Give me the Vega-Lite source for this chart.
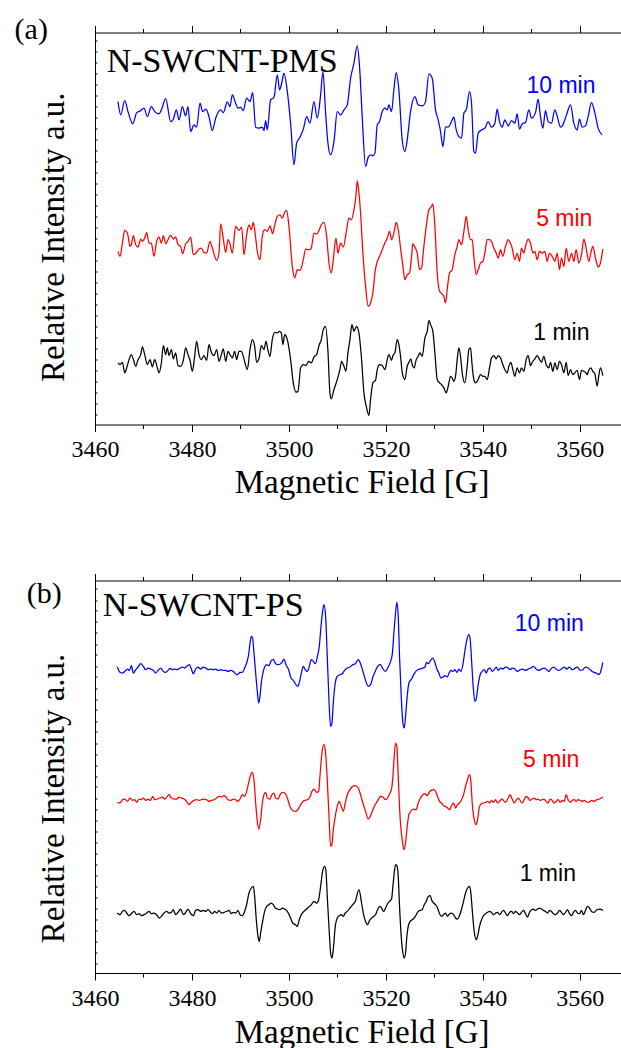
{
"$schema": "https://vega.github.io/schema/vega-lite/v6.json",
"padding": {"left": 14, "top": 14.5, "right": 0, "bottom": 0},
"config": {"font": "Liberation Serif", "view": {"stroke": null}, "axis": {"grid": false, "labelFont": "Liberation Serif", "titleFont": "Liberation Serif", "labelFontSize": 24, "domainColor": "#000000", "tickColor": "#000000", "labelColor": "#000000", "titleColor": "#000000", "domainWidth": 1, "tickWidth": 1}},
"spacing": 73,
"datasets": {
"a": [
{"t":"10 min","f":3464.75,"i":32.33},{"t":"10 min","f":3465.30,"i":31.00},{"t":"10 min","f":3466.13,"i":32.43},{"t":"10 min","f":3466.81,"i":31.33},{"t":"10 min","f":3467.78,"i":30.10},{"t":"10 min","f":3468.60,"i":31.23},{"t":"10 min","f":3469.43,"i":31.43},{"t":"10 min","f":3470.11,"i":31.67},{"t":"10 min","f":3470.80,"i":30.83},{"t":"10 min","f":3471.62,"i":31.83},{"t":"10 min","f":3472.31,"i":31.33},{"t":"10 min","f":3473.21,"i":31.10},{"t":"10 min","f":3473.69,"i":31.50},{"t":"10 min","f":3474.58,"i":32.63},{"t":"10 min","f":3475.61,"i":30.33},{"t":"10 min","f":3476.16,"i":30.57},{"t":"10 min","f":3476.78,"i":31.50},{"t":"10 min","f":3477.33,"i":30.50},{"t":"10 min","f":3478.02,"i":31.83},{"t":"10 min","f":3478.70,"i":30.90},{"t":"10 min","f":3479.18,"i":31.83},{"t":"10 min","f":3479.73,"i":29.33},{"t":"10 min","f":3480.42,"i":30.00},{"t":"10 min","f":3480.97,"i":29.77},{"t":"10 min","f":3481.66,"i":32.17},{"t":"10 min","f":3482.21,"i":31.33},{"t":"10 min","f":3482.90,"i":31.57},{"t":"10 min","f":3483.51,"i":30.83},{"t":"10 min","f":3484.20,"i":29.43},{"t":"10 min","f":3484.89,"i":30.67},{"t":"10 min","f":3485.92,"i":31.50},{"t":"10 min","f":3486.47,"i":31.23},{"t":"10 min","f":3487.29,"i":32.30},{"t":"10 min","f":3487.84,"i":31.83},{"t":"10 min","f":3488.33,"i":33.00},{"t":"10 min","f":3489.01,"i":32.17},{"t":"10 min","f":3489.49,"i":31.67},{"t":"10 min","f":3490.04,"i":31.77},{"t":"10 min","f":3490.59,"i":31.43},{"t":"10 min","f":3491.28,"i":32.67},{"t":"10 min","f":3491.97,"i":32.33},{"t":"10 min","f":3492.52,"i":33.23},{"t":"10 min","f":3493.14,"i":29.77},{"t":"10 min","f":3493.82,"i":29.67},{"t":"10 min","f":3494.51,"i":29.77},{"t":"10 min","f":3494.85,"i":29.43},{"t":"10 min","f":3495.20,"i":30.43},{"t":"10 min","f":3495.54,"i":29.50},{"t":"10 min","f":3496.23,"i":32.50},{"t":"10 min","f":3496.92,"i":32.77},{"t":"10 min","f":3497.60,"i":35.00},{"t":"10 min","f":3498.08,"i":33.50},{"t":"10 min","f":3498.50,"i":34.17},{"t":"10 min","f":3498.98,"i":35.17},{"t":"10 min","f":3499.67,"i":33.33},{"t":"10 min","f":3500.35,"i":30.17},{"t":"10 min","f":3501.04,"i":26.00},{"t":"10 min","f":3501.59,"i":28.17},{"t":"10 min","f":3502.28,"i":28.77},{"t":"10 min","f":3502.97,"i":29.57},{"t":"10 min","f":3503.65,"i":30.83},{"t":"10 min","f":3504.34,"i":30.17},{"t":"10 min","f":3505.17,"i":32.33},{"t":"10 min","f":3505.85,"i":30.67},{"t":"10 min","f":3506.54,"i":33.00},{"t":"10 min","f":3507.02,"i":35.33},{"t":"10 min","f":3507.57,"i":31.17},{"t":"10 min","f":3508.05,"i":28.17},{"t":"10 min","f":3508.60,"i":27.00},{"t":"10 min","f":3509.29,"i":28.33},{"t":"10 min","f":3509.97,"i":31.33},{"t":"10 min","f":3510.66,"i":31.00},{"t":"10 min","f":3511.35,"i":31.50},{"t":"10 min","f":3512.04,"i":32.00},{"t":"10 min","f":3512.72,"i":34.67},{"t":"10 min","f":3513.41,"i":36.17},{"t":"10 min","f":3514.10,"i":37.90},
{"t":"10 min","f":3514.57,"i":35.83},{"t":"10 min","f":3515.12,"i":30.83},{"t":"10 min","f":3515.81,"i":25.83},{"t":"10 min","f":3516.36,"i":26.77},{"t":"10 min","f":3516.84,"i":27.00},{"t":"10 min","f":3517.32,"i":26.90},{"t":"10 min","f":3517.74,"i":27.17},{"t":"10 min","f":3518.22,"i":30.00},{"t":"10 min","f":3518.70,"i":30.33},{"t":"10 min","f":3519.25,"i":31.33},{"t":"10 min","f":3519.80,"i":31.67},{"t":"10 min","f":3520.28,"i":31.50},{"t":"10 min","f":3520.62,"i":32.00},{"t":"10 min","f":3521.17,"i":31.33},{"t":"10 min","f":3521.65,"i":33.50},{"t":"10 min","f":3522.13,"i":35.23},{"t":"10 min","f":3522.68,"i":33.50},{"t":"10 min","f":3523.37,"i":28.50},{"t":"10 min","f":3523.92,"i":27.33},{"t":"10 min","f":3524.40,"i":28.50},{"t":"10 min","f":3525.09,"i":31.33},{"t":"10 min","f":3525.98,"i":32.83},{"t":"10 min","f":3526.67,"i":32.00},{"t":"10 min","f":3527.50,"i":31.90},{"t":"10 min","f":3528.18,"i":32.33},{"t":"10 min","f":3528.87,"i":35.10},{"t":"10 min","f":3529.56,"i":34.67},{"t":"10 min","f":3530.24,"i":31.50},{"t":"10 min","f":3530.79,"i":30.50},{"t":"10 min","f":3531.28,"i":29.33},{"t":"10 min","f":3531.76,"i":27.83},{"t":"10 min","f":3532.31,"i":29.77},{"t":"10 min","f":3532.99,"i":29.83},{"t":"10 min","f":3533.68,"i":30.50},{"t":"10 min","f":3534.02,"i":30.77},{"t":"10 min","f":3534.51,"i":29.50},{"t":"10 min","f":3535.06,"i":28.83},{"t":"10 min","f":3535.61,"i":28.67},{"t":"10 min","f":3536.09,"i":31.17},{"t":"10 min","f":3536.57,"i":31.50},{"t":"10 min","f":3537.26,"i":33.33},{"t":"10 min","f":3537.67,"i":32.17},{"t":"10 min","f":3538.15,"i":27.33},{"t":"10 min","f":3538.49,"i":27.17},{"t":"10 min","f":3539.04,"i":29.17},{"t":"10 min","f":3539.73,"i":29.50},{"t":"10 min","f":3540.42,"i":29.67},{"t":"10 min","f":3541.10,"i":30.33},{"t":"10 min","f":3541.79,"i":29.77},{"t":"10 min","f":3542.48,"i":30.17},{"t":"10 min","f":3542.96,"i":31.57},{"t":"10 min","f":3543.44,"i":30.33},{"t":"10 min","f":3543.99,"i":29.77},{"t":"10 min","f":3544.54,"i":30.50},{"t":"10 min","f":3545.23,"i":29.90},{"t":"10 min","f":3545.92,"i":30.43},{"t":"10 min","f":3546.60,"i":30.17},{"t":"10 min","f":3547.08,"i":31.10},{"t":"10 min","f":3547.56,"i":29.57},{"t":"10 min","f":3548.11,"i":30.10},{"t":"10 min","f":3548.80,"i":30.23},{"t":"10 min","f":3549.49,"i":31.50},{"t":"10 min","f":3550.04,"i":30.67},{"t":"10 min","f":3550.86,"i":31.23},{"t":"10 min","f":3551.41,"i":32.57},{"t":"10 min","f":3551.89,"i":30.83},{"t":"10 min","f":3552.38,"i":29.67},{"t":"10 min","f":3552.93,"i":31.43},{"t":"10 min","f":3553.48,"i":30.33},{"t":"10 min","f":3554.16,"i":30.17},{"t":"10 min","f":3554.85,"i":31.50},{"t":"10 min","f":3555.33,"i":30.90},{"t":"10 min","f":3556.02,"i":29.77},{"t":"10 min","f":3556.50,"i":30.00},{"t":"10 min","f":3557.19,"i":30.90},{"t":"10 min","f":3558.08,"i":32.00},{"t":"10 min","f":3558.77,"i":30.17},{"t":"10 min","f":3559.45,"i":29.50},{"t":"10 min","f":3559.94,"i":30.57},{"t":"10 min","f":3560.49,"i":29.77},{"t":"10 min","f":3561.17,"i":29.90},{"t":"10 min","f":3561.72,"i":30.83},{"t":"10 min","f":3562.41,"i":32.23},{"t":"10 min","f":3563.10,"i":31.23},{"t":"10 min","f":3563.78,"i":29.67},{"t":"10 min","f":3564.61,"i":29.00},
{"t":"5 min","f":3464.75,"i":17.33},{"t":"5 min","f":3465.16,"i":16.83},{"t":"5 min","f":3465.65,"i":18.17},{"t":"5 min","f":3466.13,"i":19.43},{"t":"5 min","f":3466.68,"i":19.17},{"t":"5 min","f":3467.23,"i":17.83},{"t":"5 min","f":3467.50,"i":18.00},{"t":"5 min","f":3467.91,"i":18.90},{"t":"5 min","f":3468.39,"i":18.00},{"t":"5 min","f":3468.88,"i":17.77},{"t":"5 min","f":3469.43,"i":18.57},{"t":"5 min","f":3469.77,"i":18.33},{"t":"5 min","f":3470.25,"i":18.67},{"t":"5 min","f":3470.66,"i":19.23},{"t":"5 min","f":3471.14,"i":18.17},{"t":"5 min","f":3471.62,"i":18.17},{"t":"5 min","f":3472.17,"i":16.83},{"t":"5 min","f":3472.72,"i":18.33},{"t":"5 min","f":3473.21,"i":18.77},{"t":"5 min","f":3473.69,"i":18.17},{"t":"5 min","f":3474.10,"i":18.90},{"t":"5 min","f":3474.58,"i":18.10},{"t":"5 min","f":3475.06,"i":18.50},{"t":"5 min","f":3475.61,"i":18.93},{"t":"5 min","f":3476.16,"i":18.57},{"t":"5 min","f":3476.64,"i":18.77},{"t":"5 min","f":3477.12,"i":18.00},{"t":"5 min","f":3477.67,"i":17.83},{"t":"5 min","f":3478.08,"i":17.10},{"t":"5 min","f":3478.70,"i":18.10},{"t":"5 min","f":3479.18,"i":18.33},{"t":"5 min","f":3479.73,"i":18.77},{"t":"5 min","f":3480.28,"i":17.00},{"t":"5 min","f":3480.83,"i":17.17},{"t":"5 min","f":3481.45,"i":17.57},{"t":"5 min","f":3481.93,"i":17.67},{"t":"5 min","f":3482.48,"i":17.23},{"t":"5 min","f":3483.03,"i":17.17},{"t":"5 min","f":3483.72,"i":18.33},{"t":"5 min","f":3484.20,"i":17.67},{"t":"5 min","f":3485.10,"i":16.43},{"t":"5 min","f":3485.58,"i":17.17},{"t":"5 min","f":3485.92,"i":20.10},{"t":"5 min","f":3486.47,"i":18.57},{"t":"5 min","f":3486.95,"i":17.23},{"t":"5 min","f":3487.43,"i":18.50},{"t":"5 min","f":3487.84,"i":18.10},{"t":"5 min","f":3488.33,"i":17.17},{"t":"5 min","f":3489.01,"i":19.83},{"t":"5 min","f":3489.70,"i":19.43},{"t":"5 min","f":3490.25,"i":19.77},{"t":"5 min","f":3490.73,"i":17.00},{"t":"5 min","f":3491.28,"i":19.00},{"t":"5 min","f":3491.76,"i":20.00},{"t":"5 min","f":3492.24,"i":19.50},{"t":"5 min","f":3492.66,"i":20.23},{"t":"5 min","f":3493.14,"i":18.67},{"t":"5 min","f":3493.48,"i":17.33},{"t":"5 min","f":3494.03,"i":16.50},{"t":"5 min","f":3494.51,"i":18.83},{"t":"5 min","f":3494.99,"i":19.50},{"t":"5 min","f":3495.54,"i":19.33},{"t":"5 min","f":3496.09,"i":19.90},{"t":"5 min","f":3496.64,"i":19.10},{"t":"5 min","f":3497.05,"i":19.90},{"t":"5 min","f":3497.60,"i":20.83},{"t":"5 min","f":3498.15,"i":21.00},{"t":"5 min","f":3498.64,"i":20.67},{"t":"5 min","f":3499.12,"i":21.23},{"t":"5 min","f":3499.53,"i":21.43},{"t":"5 min","f":3500.01,"i":19.83},{"t":"5 min","f":3500.70,"i":15.83},{"t":"5 min","f":3501.18,"i":14.67},{"t":"5 min","f":3501.73,"i":15.50},{"t":"5 min","f":3502.28,"i":15.43},{"t":"5 min","f":3502.97,"i":16.50},{"t":"5 min","f":3503.45,"i":17.57},{"t":"5 min","f":3504.13,"i":17.50},{"t":"5 min","f":3504.61,"i":17.67},{"t":"5 min","f":3505.17,"i":19.17},{"t":"5 min","f":3505.71,"i":19.07},{"t":"5 min","f":3506.20,"i":19.43},{"t":"5 min","f":3506.68,"i":20.00},{"t":"5 min","f":3507.23,"i":20.23},{"t":"5 min","f":3507.78,"i":18.83},{"t":"5 min","f":3508.26,"i":16.17},{"t":"5 min","f":3508.74,"i":15.17},{"t":"5 min","f":3509.15,"i":16.50},{"t":"5 min","f":3509.70,"i":18.67},{"t":"5 min","f":3510.11,"i":17.17},{"t":"5 min","f":3510.66,"i":18.17},{"t":"5 min","f":3511.21,"i":17.77},{"t":"5 min","f":3511.90,"i":19.50},{"t":"5 min","f":3512.38,"i":20.67},{"t":"5 min","f":3512.86,"i":20.50},{"t":"5 min","f":3513.41,"i":21.50},{"t":"5 min","f":3513.82,"i":22.90},{"t":"5 min","f":3514.10,"i":24.40},
{"t":"5 min","f":3514.30,"i":23.83},{"t":"5 min","f":3514.78,"i":21.17},{"t":"5 min","f":3515.26,"i":17.17},{"t":"5 min","f":3515.81,"i":13.83},{"t":"5 min","f":3516.36,"i":11.83},{"t":"5 min","f":3516.84,"i":12.17},{"t":"5 min","f":3517.32,"i":13.17},{"t":"5 min","f":3517.74,"i":15.17},{"t":"5 min","f":3518.22,"i":16.33},{"t":"5 min","f":3518.70,"i":16.83},{"t":"5 min","f":3519.11,"i":17.33},{"t":"5 min","f":3519.80,"i":18.17},{"t":"5 min","f":3520.28,"i":18.67},{"t":"5 min","f":3520.76,"i":19.33},{"t":"5 min","f":3521.17,"i":18.50},{"t":"5 min","f":3521.65,"i":19.17},{"t":"5 min","f":3522.13,"i":20.23},{"t":"5 min","f":3522.55,"i":19.50},{"t":"5 min","f":3523.03,"i":17.67},{"t":"5 min","f":3523.51,"i":15.83},{"t":"5 min","f":3523.92,"i":14.50},{"t":"5 min","f":3524.40,"i":15.00},{"t":"5 min","f":3524.88,"i":15.17},{"t":"5 min","f":3525.30,"i":16.83},{"t":"5 min","f":3525.57,"i":18.10},{"t":"5 min","f":3525.98,"i":17.77},{"t":"5 min","f":3526.46,"i":17.17},{"t":"5 min","f":3526.95,"i":15.50},{"t":"5 min","f":3527.36,"i":15.67},{"t":"5 min","f":3527.84,"i":17.83},{"t":"5 min","f":3528.32,"i":19.83},{"t":"5 min","f":3528.87,"i":21.50},{"t":"5 min","f":3529.42,"i":21.83},{"t":"5 min","f":3529.69,"i":22.10},{"t":"5 min","f":3530.11,"i":19.83},{"t":"5 min","f":3530.59,"i":15.17},{"t":"5 min","f":3531.07,"i":13.33},{"t":"5 min","f":3531.48,"i":13.10},{"t":"5 min","f":3531.96,"i":12.83},{"t":"5 min","f":3532.31,"i":12.17},{"t":"5 min","f":3532.72,"i":13.83},{"t":"5 min","f":3533.13,"i":15.17},{"t":"5 min","f":3533.68,"i":15.50},{"t":"5 min","f":3534.23,"i":17.00},{"t":"5 min","f":3534.71,"i":17.83},{"t":"5 min","f":3535.06,"i":18.50},{"t":"5 min","f":3535.61,"i":18.00},{"t":"5 min","f":3536.09,"i":19.33},{"t":"5 min","f":3536.57,"i":20.83},{"t":"5 min","f":3536.98,"i":19.50},{"t":"5 min","f":3537.46,"i":18.50},{"t":"5 min","f":3537.81,"i":18.50},{"t":"5 min","f":3538.15,"i":16.83},{"t":"5 min","f":3538.63,"i":15.00},{"t":"5 min","f":3539.04,"i":15.50},{"t":"5 min","f":3539.52,"i":16.17},{"t":"5 min","f":3540.00,"i":16.33},{"t":"5 min","f":3540.42,"i":17.17},{"t":"5 min","f":3540.90,"i":18.50},{"t":"5 min","f":3541.38,"i":18.50},{"t":"5 min","f":3541.79,"i":18.33},{"t":"5 min","f":3542.27,"i":17.67},{"t":"5 min","f":3542.75,"i":17.17},{"t":"5 min","f":3543.17,"i":16.67},{"t":"5 min","f":3543.65,"i":17.50},{"t":"5 min","f":3544.13,"i":16.83},{"t":"5 min","f":3544.68,"i":17.83},{"t":"5 min","f":3545.23,"i":18.50},{"t":"5 min","f":3545.71,"i":18.10},{"t":"5 min","f":3546.05,"i":17.67},{"t":"5 min","f":3546.60,"i":16.50},{"t":"5 min","f":3547.08,"i":17.17},{"t":"5 min","f":3547.56,"i":16.33},{"t":"5 min","f":3547.97,"i":17.67},{"t":"5 min","f":3548.46,"i":17.17},{"t":"5 min","f":3548.94,"i":18.10},{"t":"5 min","f":3549.35,"i":18.57},{"t":"5 min","f":3549.83,"i":18.17},{"t":"5 min","f":3550.31,"i":17.17},{"t":"5 min","f":3550.73,"i":17.33},{"t":"5 min","f":3551.21,"i":16.50},{"t":"5 min","f":3551.69,"i":17.33},{"t":"5 min","f":3552.24,"i":17.17},{"t":"5 min","f":3552.79,"i":17.33},{"t":"5 min","f":3553.27,"i":16.33},{"t":"5 min","f":3553.75,"i":17.17},{"t":"5 min","f":3554.30,"i":16.83},{"t":"5 min","f":3554.85,"i":16.33},{"t":"5 min","f":3555.33,"i":17.17},{"t":"5 min","f":3555.81,"i":15.50},{"t":"5 min","f":3556.22,"i":16.67},{"t":"5 min","f":3556.71,"i":15.83},{"t":"5 min","f":3557.19,"i":17.67},{"t":"5 min","f":3557.74,"i":16.33},{"t":"5 min","f":3558.29,"i":17.17},{"t":"5 min","f":3558.77,"i":16.33},{"t":"5 min","f":3559.25,"i":17.50},{"t":"5 min","f":3559.80,"i":16.17},{"t":"5 min","f":3560.35,"i":17.00},{"t":"5 min","f":3560.83,"i":18.57},{"t":"5 min","f":3561.31,"i":17.67},{"t":"5 min","f":3561.86,"i":16.33},{"t":"5 min","f":3562.27,"i":17.17},{"t":"5 min","f":3562.68,"i":17.83},{"t":"5 min","f":3563.23,"i":16.67},{"t":"5 min","f":3563.78,"i":15.77},{"t":"5 min","f":3564.26,"i":16.17},{"t":"5 min","f":3564.75,"i":17.57},
{"t":"1 min","f":3464.75,"i":6.17},{"t":"1 min","f":3465.16,"i":6.00},{"t":"1 min","f":3465.65,"i":6.23},{"t":"1 min","f":3466.13,"i":5.17},{"t":"1 min","f":3466.54,"i":5.67},{"t":"1 min","f":3467.02,"i":6.50},{"t":"1 min","f":3467.50,"i":7.00},{"t":"1 min","f":3467.91,"i":6.50},{"t":"1 min","f":3468.39,"i":5.83},{"t":"1 min","f":3468.88,"i":6.50},{"t":"1 min","f":3469.43,"i":7.00},{"t":"1 min","f":3469.77,"i":7.77},{"t":"1 min","f":3470.25,"i":7.00},{"t":"1 min","f":3470.80,"i":6.00},{"t":"1 min","f":3471.35,"i":6.50},{"t":"1 min","f":3471.83,"i":5.77},{"t":"1 min","f":3472.31,"i":6.50},{"t":"1 min","f":3472.86,"i":5.67},{"t":"1 min","f":3473.21,"i":5.17},{"t":"1 min","f":3473.69,"i":6.17},{"t":"1 min","f":3474.10,"i":7.90},{"t":"1 min","f":3474.58,"i":7.00},{"t":"1 min","f":3474.92,"i":7.67},{"t":"1 min","f":3475.27,"i":6.90},{"t":"1 min","f":3475.75,"i":7.50},{"t":"1 min","f":3476.16,"i":6.57},{"t":"1 min","f":3476.64,"i":7.17},{"t":"1 min","f":3477.12,"i":5.90},{"t":"1 min","f":3477.67,"i":5.83},{"t":"1 min","f":3478.22,"i":6.43},{"t":"1 min","f":3478.70,"i":7.67},{"t":"1 min","f":3479.18,"i":7.00},{"t":"1 min","f":3479.60,"i":6.43},{"t":"1 min","f":3480.08,"i":5.33},{"t":"1 min","f":3480.56,"i":6.83},{"t":"1 min","f":3480.97,"i":8.33},{"t":"1 min","f":3481.45,"i":7.00},{"t":"1 min","f":3481.93,"i":6.50},{"t":"1 min","f":3482.48,"i":6.90},{"t":"1 min","f":3483.03,"i":6.43},{"t":"1 min","f":3483.51,"i":8.00},{"t":"1 min","f":3483.99,"i":7.23},{"t":"1 min","f":3484.55,"i":6.90},{"t":"1 min","f":3485.10,"i":7.50},{"t":"1 min","f":3485.58,"i":6.33},{"t":"1 min","f":3486.06,"i":7.00},{"t":"1 min","f":3486.47,"i":7.57},{"t":"1 min","f":3486.95,"i":6.33},{"t":"1 min","f":3487.43,"i":7.33},{"t":"1 min","f":3487.84,"i":7.00},{"t":"1 min","f":3488.33,"i":6.67},{"t":"1 min","f":3488.81,"i":7.33},{"t":"1 min","f":3489.22,"i":6.50},{"t":"1 min","f":3489.70,"i":7.33},{"t":"1 min","f":3490.18,"i":7.33},{"t":"1 min","f":3490.73,"i":6.57},{"t":"1 min","f":3491.42,"i":5.50},{"t":"1 min","f":3491.97,"i":7.50},{"t":"1 min","f":3492.45,"i":8.50},{"t":"1 min","f":3492.93,"i":7.83},{"t":"1 min","f":3493.34,"i":6.23},{"t":"1 min","f":3493.82,"i":6.57},{"t":"1 min","f":3494.31,"i":7.90},{"t":"1 min","f":3494.85,"i":7.50},{"t":"1 min","f":3495.27,"i":8.33},{"t":"1 min","f":3495.68,"i":7.43},{"t":"1 min","f":3496.09,"i":6.83},{"t":"1 min","f":3496.57,"i":8.50},{"t":"1 min","f":3497.05,"i":9.23},{"t":"1 min","f":3497.60,"i":9.17},{"t":"1 min","f":3498.02,"i":9.33},{"t":"1 min","f":3498.43,"i":9.17},{"t":"1 min","f":3498.77,"i":8.00},{"t":"1 min","f":3499.12,"i":9.00},{"t":"1 min","f":3499.67,"i":8.50},{"t":"1 min","f":3500.35,"i":6.50},{"t":"1 min","f":3500.90,"i":4.17},{"t":"1 min","f":3501.45,"i":3.23},{"t":"1 min","f":3501.87,"i":3.33},{"t":"1 min","f":3502.42,"i":5.67},{"t":"1 min","f":3502.97,"i":6.00},{"t":"1 min","f":3503.45,"i":5.90},{"t":"1 min","f":3504.13,"i":6.33},{"t":"1 min","f":3504.61,"i":6.17},{"t":"1 min","f":3505.17,"i":6.77},{"t":"1 min","f":3505.71,"i":7.00},{"t":"1 min","f":3506.20,"i":7.90},{"t":"1 min","f":3506.68,"i":8.50},{"t":"1 min","f":3507.09,"i":9.50},{"t":"1 min","f":3507.57,"i":9.83},{"t":"1 min","f":3508.05,"i":7.33},{"t":"1 min","f":3508.46,"i":3.17},{"t":"1 min","f":3508.74,"i":2.57},{"t":"1 min","f":3509.29,"i":3.50},{"t":"1 min","f":3509.97,"i":4.50},{"t":"1 min","f":3510.52,"i":5.50},{"t":"1 min","f":3510.87,"i":6.33},{"t":"1 min","f":3511.35,"i":5.83},{"t":"1 min","f":3511.76,"i":5.33},{"t":"1 min","f":3512.17,"i":7.17},{"t":"1 min","f":3512.59,"i":8.50},{"t":"1 min","f":3513.00,"i":10.00},{"t":"1 min","f":3513.41,"i":9.33},{"t":"1 min","f":3513.96,"i":9.83},
{"t":"1 min","f":3514.44,"i":9.17},{"t":"1 min","f":3514.99,"i":6.50},{"t":"1 min","f":3515.47,"i":3.17},{"t":"1 min","f":3515.95,"i":1.83},{"t":"1 min","f":3516.50,"i":0.90},{"t":"1 min","f":3516.84,"i":2.50},{"t":"1 min","f":3517.32,"i":4.17},{"t":"1 min","f":3517.87,"i":4.43},{"t":"1 min","f":3518.22,"i":5.50},{"t":"1 min","f":3518.70,"i":6.00},{"t":"1 min","f":3519.25,"i":5.90},{"t":"1 min","f":3519.80,"i":5.50},{"t":"1 min","f":3520.28,"i":6.50},{"t":"1 min","f":3520.62,"i":7.00},{"t":"1 min","f":3521.17,"i":6.43},{"t":"1 min","f":3521.45,"i":6.90},{"t":"1 min","f":3521.86,"i":7.17},{"t":"1 min","f":3522.34,"i":8.50},{"t":"1 min","f":3522.68,"i":8.00},{"t":"1 min","f":3523.03,"i":6.83},{"t":"1 min","f":3523.37,"i":5.23},{"t":"1 min","f":3523.92,"i":4.50},{"t":"1 min","f":3524.40,"i":5.83},{"t":"1 min","f":3524.75,"i":6.23},{"t":"1 min","f":3525.16,"i":6.57},{"t":"1 min","f":3525.43,"i":6.00},{"t":"1 min","f":3525.85,"i":5.67},{"t":"1 min","f":3526.26,"i":6.50},{"t":"1 min","f":3526.67,"i":6.83},{"t":"1 min","f":3527.01,"i":7.17},{"t":"1 min","f":3527.50,"i":6.83},{"t":"1 min","f":3528.05,"i":8.67},{"t":"1 min","f":3528.53,"i":9.33},{"t":"1 min","f":3528.87,"i":10.43},{"t":"1 min","f":3529.21,"i":10.00},{"t":"1 min","f":3529.69,"i":9.33},{"t":"1 min","f":3530.11,"i":7.17},{"t":"1 min","f":3530.59,"i":4.50},{"t":"1 min","f":3531.07,"i":4.17},{"t":"1 min","f":3531.48,"i":4.00},{"t":"1 min","f":3531.96,"i":3.67},{"t":"1 min","f":3532.44,"i":3.17},{"t":"1 min","f":3532.86,"i":3.83},{"t":"1 min","f":3533.34,"i":4.83},{"t":"1 min","f":3533.68,"i":4.67},{"t":"1 min","f":3534.02,"i":4.33},{"t":"1 min","f":3534.37,"i":4.83},{"t":"1 min","f":3534.71,"i":6.50},{"t":"1 min","f":3535.06,"i":7.67},{"t":"1 min","f":3535.40,"i":6.83},{"t":"1 min","f":3535.74,"i":5.17},{"t":"1 min","f":3536.29,"i":4.17},{"t":"1 min","f":3536.77,"i":5.83},{"t":"1 min","f":3537.12,"i":7.50},{"t":"1 min","f":3537.46,"i":7.67},{"t":"1 min","f":3537.81,"i":5.83},{"t":"1 min","f":3538.15,"i":4.50},{"t":"1 min","f":3538.49,"i":4.17},{"t":"1 min","f":3539.04,"i":4.50},{"t":"1 min","f":3539.52,"i":5.00},{"t":"1 min","f":3540.00,"i":4.83},{"t":"1 min","f":3540.42,"i":4.83},{"t":"1 min","f":3540.90,"i":4.50},{"t":"1 min","f":3541.38,"i":5.67},{"t":"1 min","f":3541.79,"i":6.67},{"t":"1 min","f":3542.27,"i":6.90},{"t":"1 min","f":3542.75,"i":6.57},{"t":"1 min","f":3543.17,"i":6.90},{"t":"1 min","f":3543.65,"i":6.67},{"t":"1 min","f":3544.13,"i":6.00},{"t":"1 min","f":3544.54,"i":5.50},{"t":"1 min","f":3545.02,"i":5.17},{"t":"1 min","f":3545.37,"i":5.83},{"t":"1 min","f":3545.78,"i":6.23},{"t":"1 min","f":3546.19,"i":5.50},{"t":"1 min","f":3546.60,"i":4.83},{"t":"1 min","f":3547.08,"i":5.67},{"t":"1 min","f":3547.56,"i":5.17},{"t":"1 min","f":3547.97,"i":5.67},{"t":"1 min","f":3548.46,"i":5.33},{"t":"1 min","f":3548.94,"i":6.50},{"t":"1 min","f":3549.35,"i":6.90},{"t":"1 min","f":3549.83,"i":5.90},{"t":"1 min","f":3550.18,"i":6.23},{"t":"1 min","f":3550.73,"i":6.57},{"t":"1 min","f":3551.21,"i":6.90},{"t":"1 min","f":3551.69,"i":6.50},{"t":"1 min","f":3552.10,"i":6.23},{"t":"1 min","f":3552.58,"i":6.83},{"t":"1 min","f":3553.06,"i":6.00},{"t":"1 min","f":3553.61,"i":5.67},{"t":"1 min","f":3553.96,"i":6.23},{"t":"1 min","f":3554.44,"i":5.33},{"t":"1 min","f":3554.85,"i":6.17},{"t":"1 min","f":3555.33,"i":5.50},{"t":"1 min","f":3555.81,"i":6.33},{"t":"1 min","f":3556.22,"i":6.00},{"t":"1 min","f":3556.71,"i":5.17},{"t":"1 min","f":3557.19,"i":6.23},{"t":"1 min","f":3557.60,"i":4.90},{"t":"1 min","f":3558.08,"i":5.50},{"t":"1 min","f":3558.56,"i":5.00},{"t":"1 min","f":3558.97,"i":5.17},{"t":"1 min","f":3559.45,"i":5.43},{"t":"1 min","f":3559.94,"i":4.50},{"t":"1 min","f":3560.35,"i":5.43},{"t":"1 min","f":3560.83,"i":5.33},{"t":"1 min","f":3561.17,"i":5.23},{"t":"1 min","f":3561.52,"i":5.00},{"t":"1 min","f":3561.86,"i":5.43},{"t":"1 min","f":3562.27,"i":5.67},{"t":"1 min","f":3562.68,"i":5.33},{"t":"1 min","f":3563.10,"i":5.10},{"t":"1 min","f":3563.58,"i":3.83},{"t":"1 min","f":3563.92,"i":4.90},{"t":"1 min","f":3564.26,"i":5.67},{"t":"1 min","f":3564.75,"i":4.90}
],
"b": [
{"t":"10 min","f":3464.61,"i":30.60},{"t":"10 min","f":3465.16,"i":30.07},{"t":"10 min","f":3465.65,"i":30.00},{"t":"10 min","f":3466.13,"i":30.16},{"t":"10 min","f":3466.68,"i":30.40},{"t":"10 min","f":3467.09,"i":30.26},{"t":"10 min","f":3467.50,"i":30.73},{"t":"10 min","f":3467.91,"i":30.00},{"t":"10 min","f":3468.39,"i":30.33},{"t":"10 min","f":3468.88,"i":30.60},{"t":"10 min","f":3469.43,"i":30.93},{"t":"10 min","f":3469.97,"i":30.66},{"t":"10 min","f":3470.46,"i":30.33},{"t":"10 min","f":3470.94,"i":30.50},{"t":"10 min","f":3471.49,"i":30.40},{"t":"10 min","f":3472.04,"i":30.26},{"t":"10 min","f":3472.52,"i":30.00},{"t":"10 min","f":3473.00,"i":30.26},{"t":"10 min","f":3473.55,"i":30.50},{"t":"10 min","f":3474.10,"i":30.16},{"t":"10 min","f":3474.58,"i":30.06},{"t":"10 min","f":3475.06,"i":30.26},{"t":"10 min","f":3475.47,"i":30.46},{"t":"10 min","f":3475.95,"i":30.33},{"t":"10 min","f":3476.44,"i":30.40},{"t":"10 min","f":3476.99,"i":30.33},{"t":"10 min","f":3477.54,"i":30.50},{"t":"10 min","f":3478.02,"i":30.60},{"t":"10 min","f":3478.50,"i":30.50},{"t":"10 min","f":3479.05,"i":30.73},{"t":"10 min","f":3479.46,"i":30.83},{"t":"10 min","f":3479.87,"i":30.40},{"t":"10 min","f":3480.28,"i":29.93},{"t":"10 min","f":3480.77,"i":30.40},{"t":"10 min","f":3481.25,"i":30.60},{"t":"10 min","f":3481.80,"i":30.40},{"t":"10 min","f":3482.35,"i":30.60},{"t":"10 min","f":3482.83,"i":30.50},{"t":"10 min","f":3483.31,"i":30.33},{"t":"10 min","f":3483.86,"i":30.40},{"t":"10 min","f":3484.41,"i":30.33},{"t":"10 min","f":3484.89,"i":30.40},{"t":"10 min","f":3485.37,"i":30.26},{"t":"10 min","f":3485.92,"i":30.33},{"t":"10 min","f":3486.47,"i":30.26},{"t":"10 min","f":3486.95,"i":30.26},{"t":"10 min","f":3487.43,"i":30.16},{"t":"10 min","f":3487.98,"i":30.26},{"t":"10 min","f":3488.53,"i":30.16},{"t":"10 min","f":3489.01,"i":29.93},{"t":"10 min","f":3489.36,"i":29.83},{"t":"10 min","f":3489.91,"i":30.06},{"t":"10 min","f":3490.39,"i":30.06},{"t":"10 min","f":3490.87,"i":30.50},{"t":"10 min","f":3491.28,"i":31.00},{"t":"10 min","f":3491.69,"i":31.83},{"t":"10 min","f":3491.97,"i":32.93},{"t":"10 min","f":3492.24,"i":33.66},{"t":"10 min","f":3492.52,"i":33.50},{"t":"10 min","f":3492.79,"i":32.00},{"t":"10 min","f":3493.14,"i":30.00},{"t":"10 min","f":3493.48,"i":28.16},{"t":"10 min","f":3493.76,"i":27.00},{"t":"10 min","f":3494.03,"i":27.66},{"t":"10 min","f":3494.31,"i":29.06},{"t":"10 min","f":3494.72,"i":30.16},{"t":"10 min","f":3494.99,"i":30.60},{"t":"10 min","f":3495.41,"i":30.83},{"t":"10 min","f":3495.89,"i":30.73},{"t":"10 min","f":3496.37,"i":31.26},{"t":"10 min","f":3496.78,"i":31.33},{"t":"10 min","f":3497.26,"i":30.93},{"t":"10 min","f":3497.74,"i":30.83},{"t":"10 min","f":3498.29,"i":30.93},{"t":"10 min","f":3498.70,"i":31.16},{"t":"10 min","f":3498.98,"i":31.40},{"t":"10 min","f":3499.39,"i":30.83},{"t":"10 min","f":3499.94,"i":30.33},{"t":"10 min","f":3500.35,"i":29.60},{"t":"10 min","f":3500.90,"i":29.26},{"t":"10 min","f":3501.45,"i":28.83},{"t":"10 min","f":3501.87,"i":28.66},{"t":"10 min","f":3502.28,"i":29.33},{"t":"10 min","f":3502.69,"i":30.26},{"t":"10 min","f":3502.97,"i":30.66},{"t":"10 min","f":3503.38,"i":30.33},{"t":"10 min","f":3503.79,"i":30.16},{"t":"10 min","f":3504.20,"i":30.66},{"t":"10 min","f":3504.61,"i":31.33},{"t":"10 min","f":3505.03,"i":31.16},{"t":"10 min","f":3505.44,"i":30.93},{"t":"10 min","f":3505.85,"i":31.60},{"t":"10 min","f":3506.26,"i":32.66},{"t":"10 min","f":3506.68,"i":35.00},{"t":"10 min","f":3506.95,"i":36.16},{"t":"10 min","f":3507.23,"i":36.83},{"t":"10 min","f":3507.57,"i":35.66},{"t":"10 min","f":3507.91,"i":31.66},{"t":"10 min","f":3508.26,"i":27.33},{"t":"10 min","f":3508.60,"i":24.66},{"t":"10 min","f":3508.88,"i":25.00},{"t":"10 min","f":3509.15,"i":27.00},{"t":"10 min","f":3509.56,"i":29.00},{"t":"10 min","f":3509.97,"i":29.66},{"t":"10 min","f":3510.52,"i":29.83},{"t":"10 min","f":3511.00,"i":29.93},{"t":"10 min","f":3511.49,"i":30.26},{"t":"10 min","f":3512.04,"i":30.50},{"t":"10 min","f":3512.59,"i":30.60},{"t":"10 min","f":3513.14,"i":30.83},{"t":"10 min","f":3513.69,"i":30.93},
{"t":"10 min","f":3514.30,"i":31.33},{"t":"10 min","f":3514.78,"i":30.93},{"t":"10 min","f":3515.26,"i":30.16},{"t":"10 min","f":3515.81,"i":29.26},{"t":"10 min","f":3516.36,"i":28.66},{"t":"10 min","f":3516.84,"i":28.83},{"t":"10 min","f":3517.32,"i":29.60},{"t":"10 min","f":3517.87,"i":30.26},{"t":"10 min","f":3518.42,"i":30.73},{"t":"10 min","f":3518.90,"i":30.83},{"t":"10 min","f":3519.39,"i":30.40},{"t":"10 min","f":3519.94,"i":30.16},{"t":"10 min","f":3520.49,"i":30.60},{"t":"10 min","f":3520.97,"i":31.16},{"t":"10 min","f":3521.31,"i":31.83},{"t":"10 min","f":3521.65,"i":34.00},{"t":"10 min","f":3522.00,"i":36.00},{"t":"10 min","f":3522.27,"i":37.06},{"t":"10 min","f":3522.55,"i":35.66},{"t":"10 min","f":3522.82,"i":31.66},{"t":"10 min","f":3523.17,"i":27.66},{"t":"10 min","f":3523.51,"i":25.00},{"t":"10 min","f":3523.78,"i":24.50},{"t":"10 min","f":3524.06,"i":25.66},{"t":"10 min","f":3524.40,"i":27.66},{"t":"10 min","f":3524.75,"i":29.00},{"t":"10 min","f":3525.30,"i":29.40},{"t":"10 min","f":3525.85,"i":29.93},{"t":"10 min","f":3526.40,"i":30.26},{"t":"10 min","f":3526.95,"i":30.40},{"t":"10 min","f":3527.50,"i":30.46},{"t":"10 min","f":3528.05,"i":30.60},{"t":"10 min","f":3528.39,"i":31.06},{"t":"10 min","f":3528.73,"i":30.93},{"t":"10 min","f":3529.21,"i":31.26},{"t":"10 min","f":3529.69,"i":31.50},{"t":"10 min","f":3530.11,"i":31.06},{"t":"10 min","f":3530.52,"i":30.40},{"t":"10 min","f":3530.93,"i":30.00},{"t":"10 min","f":3531.34,"i":29.50},{"t":"10 min","f":3531.76,"i":29.60},{"t":"10 min","f":3532.17,"i":29.73},{"t":"10 min","f":3532.65,"i":29.60},{"t":"10 min","f":3532.99,"i":29.93},{"t":"10 min","f":3533.41,"i":30.26},{"t":"10 min","f":3533.82,"i":30.16},{"t":"10 min","f":3534.23,"i":30.33},{"t":"10 min","f":3534.64,"i":30.06},{"t":"10 min","f":3535.06,"i":30.40},{"t":"10 min","f":3535.47,"i":30.16},{"t":"10 min","f":3535.88,"i":30.83},{"t":"10 min","f":3536.29,"i":32.16},{"t":"10 min","f":3536.71,"i":33.33},{"t":"10 min","f":3537.12,"i":33.83},{"t":"10 min","f":3537.39,"i":33.40},{"t":"10 min","f":3537.67,"i":31.33},{"t":"10 min","f":3538.01,"i":28.66},{"t":"10 min","f":3538.35,"i":27.16},{"t":"10 min","f":3538.63,"i":27.40},{"t":"10 min","f":3539.04,"i":28.83},{"t":"10 min","f":3539.45,"i":29.83},{"t":"10 min","f":3539.87,"i":30.16},{"t":"10 min","f":3540.28,"i":30.33},{"t":"10 min","f":3540.69,"i":30.00},{"t":"10 min","f":3541.10,"i":30.40},{"t":"10 min","f":3541.52,"i":30.50},{"t":"10 min","f":3541.93,"i":30.16},{"t":"10 min","f":3542.34,"i":30.33},{"t":"10 min","f":3542.75,"i":30.60},{"t":"10 min","f":3543.17,"i":30.26},{"t":"10 min","f":3543.72,"i":30.50},{"t":"10 min","f":3544.13,"i":30.40},{"t":"10 min","f":3544.68,"i":30.60},{"t":"10 min","f":3545.23,"i":30.50},{"t":"10 min","f":3545.64,"i":30.33},{"t":"10 min","f":3546.05,"i":30.50},{"t":"10 min","f":3546.60,"i":30.40},{"t":"10 min","f":3547.15,"i":30.16},{"t":"10 min","f":3547.70,"i":30.33},{"t":"10 min","f":3548.25,"i":30.40},{"t":"10 min","f":3548.80,"i":30.26},{"t":"10 min","f":3549.35,"i":30.40},{"t":"10 min","f":3549.90,"i":30.50},{"t":"10 min","f":3550.45,"i":30.66},{"t":"10 min","f":3551.00,"i":30.40},{"t":"10 min","f":3551.55,"i":30.26},{"t":"10 min","f":3552.10,"i":30.40},{"t":"10 min","f":3552.65,"i":30.50},{"t":"10 min","f":3553.20,"i":30.33},{"t":"10 min","f":3553.61,"i":30.16},{"t":"10 min","f":3554.02,"i":30.40},{"t":"10 min","f":3554.57,"i":30.60},{"t":"10 min","f":3555.12,"i":30.40},{"t":"10 min","f":3555.67,"i":30.26},{"t":"10 min","f":3556.22,"i":30.40},{"t":"10 min","f":3556.77,"i":30.60},{"t":"10 min","f":3557.32,"i":30.40},{"t":"10 min","f":3557.87,"i":30.60},{"t":"10 min","f":3558.42,"i":30.33},{"t":"10 min","f":3558.97,"i":30.46},{"t":"10 min","f":3559.52,"i":30.60},{"t":"10 min","f":3560.07,"i":30.26},{"t":"10 min","f":3560.62,"i":30.33},{"t":"10 min","f":3561.17,"i":30.60},{"t":"10 min","f":3561.72,"i":30.50},{"t":"10 min","f":3562.14,"i":30.33},{"t":"10 min","f":3562.55,"i":30.16},{"t":"10 min","f":3562.96,"i":30.06},{"t":"10 min","f":3563.37,"i":30.00},{"t":"10 min","f":3563.92,"i":29.83},{"t":"10 min","f":3564.33,"i":30.16},{"t":"10 min","f":3564.75,"i":31.06},
{"t":"5 min","f":3464.61,"i":17.06},{"t":"5 min","f":3465.16,"i":17.00},{"t":"5 min","f":3465.65,"i":17.33},{"t":"5 min","f":3466.13,"i":17.40},{"t":"5 min","f":3466.68,"i":17.16},{"t":"5 min","f":3467.23,"i":17.50},{"t":"5 min","f":3467.71,"i":17.26},{"t":"5 min","f":3468.19,"i":17.33},{"t":"5 min","f":3468.60,"i":17.06},{"t":"5 min","f":3469.08,"i":17.40},{"t":"5 min","f":3469.56,"i":17.33},{"t":"5 min","f":3469.97,"i":17.50},{"t":"5 min","f":3470.46,"i":17.26},{"t":"5 min","f":3470.94,"i":17.40},{"t":"5 min","f":3471.49,"i":17.26},{"t":"5 min","f":3471.90,"i":17.66},{"t":"5 min","f":3472.31,"i":17.33},{"t":"5 min","f":3472.86,"i":17.40},{"t":"5 min","f":3473.41,"i":17.50},{"t":"5 min","f":3473.89,"i":17.60},{"t":"5 min","f":3474.37,"i":17.40},{"t":"5 min","f":3474.92,"i":17.66},{"t":"5 min","f":3475.34,"i":17.83},{"t":"5 min","f":3475.75,"i":17.50},{"t":"5 min","f":3476.30,"i":17.40},{"t":"5 min","f":3476.85,"i":17.40},{"t":"5 min","f":3477.33,"i":17.60},{"t":"5 min","f":3477.81,"i":17.50},{"t":"5 min","f":3478.36,"i":17.40},{"t":"5 min","f":3478.91,"i":17.16},{"t":"5 min","f":3479.39,"i":16.83},{"t":"5 min","f":3479.87,"i":17.06},{"t":"5 min","f":3480.42,"i":17.26},{"t":"5 min","f":3480.97,"i":17.33},{"t":"5 min","f":3481.45,"i":17.26},{"t":"5 min","f":3481.93,"i":17.33},{"t":"5 min","f":3482.48,"i":17.40},{"t":"5 min","f":3483.03,"i":17.33},{"t":"5 min","f":3483.51,"i":17.16},{"t":"5 min","f":3483.99,"i":17.26},{"t":"5 min","f":3484.55,"i":17.33},{"t":"5 min","f":3485.10,"i":17.50},{"t":"5 min","f":3485.58,"i":17.66},{"t":"5 min","f":3486.06,"i":17.60},{"t":"5 min","f":3486.61,"i":17.73},{"t":"5 min","f":3487.02,"i":17.60},{"t":"5 min","f":3487.43,"i":17.33},{"t":"5 min","f":3487.98,"i":17.26},{"t":"5 min","f":3488.53,"i":17.40},{"t":"5 min","f":3489.01,"i":17.33},{"t":"5 min","f":3489.49,"i":17.16},{"t":"5 min","f":3489.91,"i":17.40},{"t":"5 min","f":3490.39,"i":17.83},{"t":"5 min","f":3490.87,"i":17.66},{"t":"5 min","f":3491.28,"i":18.16},{"t":"5 min","f":3491.76,"i":19.16},{"t":"5 min","f":3492.11,"i":19.83},{"t":"5 min","f":3492.45,"i":20.06},{"t":"5 min","f":3492.79,"i":19.33},{"t":"5 min","f":3493.14,"i":17.00},{"t":"5 min","f":3493.48,"i":15.16},{"t":"5 min","f":3493.82,"i":14.40},{"t":"5 min","f":3494.17,"i":15.33},{"t":"5 min","f":3494.51,"i":17.00},{"t":"5 min","f":3494.85,"i":17.83},{"t":"5 min","f":3495.20,"i":18.06},{"t":"5 min","f":3495.54,"i":17.50},{"t":"5 min","f":3496.09,"i":17.40},{"t":"5 min","f":3496.50,"i":17.83},{"t":"5 min","f":3496.92,"i":18.00},{"t":"5 min","f":3497.26,"i":17.50},{"t":"5 min","f":3497.74,"i":17.40},{"t":"5 min","f":3498.29,"i":17.93},{"t":"5 min","f":3498.84,"i":18.06},{"t":"5 min","f":3499.25,"i":17.93},{"t":"5 min","f":3499.67,"i":17.50},{"t":"5 min","f":3500.22,"i":16.66},{"t":"5 min","f":3500.77,"i":16.26},{"t":"5 min","f":3501.32,"i":16.16},{"t":"5 min","f":3501.87,"i":16.33},{"t":"5 min","f":3502.28,"i":16.73},{"t":"5 min","f":3502.76,"i":17.06},{"t":"5 min","f":3503.24,"i":17.26},{"t":"5 min","f":3503.79,"i":17.33},{"t":"5 min","f":3504.34,"i":17.60},{"t":"5 min","f":3504.75,"i":18.16},{"t":"5 min","f":3505.17,"i":18.40},{"t":"5 min","f":3505.71,"i":18.06},{"t":"5 min","f":3506.13,"i":18.16},{"t":"5 min","f":3506.40,"i":19.66},{"t":"5 min","f":3506.81,"i":22.00},{"t":"5 min","f":3507.23,"i":22.83},{"t":"5 min","f":3507.50,"i":22.33},{"t":"5 min","f":3507.91,"i":19.33},{"t":"5 min","f":3508.33,"i":15.00},{"t":"5 min","f":3508.60,"i":12.66},{"t":"5 min","f":3508.88,"i":12.83},{"t":"5 min","f":3509.15,"i":14.33},{"t":"5 min","f":3509.56,"i":15.66},{"t":"5 min","f":3509.97,"i":16.66},{"t":"5 min","f":3510.39,"i":17.16},{"t":"5 min","f":3510.80,"i":16.66},{"t":"5 min","f":3511.21,"i":16.16},{"t":"5 min","f":3511.62,"i":17.00},{"t":"5 min","f":3512.04,"i":17.83},{"t":"5 min","f":3512.59,"i":18.33},{"t":"5 min","f":3513.14,"i":18.66},{"t":"5 min","f":3513.69,"i":18.73},
{"t":"5 min","f":3514.30,"i":18.50},{"t":"5 min","f":3514.78,"i":17.83},{"t":"5 min","f":3515.26,"i":17.00},{"t":"5 min","f":3515.81,"i":16.16},{"t":"5 min","f":3516.36,"i":15.40},{"t":"5 min","f":3516.77,"i":15.66},{"t":"5 min","f":3517.19,"i":16.16},{"t":"5 min","f":3517.60,"i":16.66},{"t":"5 min","f":3518.01,"i":17.00},{"t":"5 min","f":3518.42,"i":17.33},{"t":"5 min","f":3518.90,"i":17.66},{"t":"5 min","f":3519.39,"i":17.60},{"t":"5 min","f":3519.94,"i":17.33},{"t":"5 min","f":3520.35,"i":17.50},{"t":"5 min","f":3520.76,"i":17.93},{"t":"5 min","f":3521.17,"i":18.40},{"t":"5 min","f":3521.45,"i":19.66},{"t":"5 min","f":3521.72,"i":21.66},{"t":"5 min","f":3522.00,"i":23.00},{"t":"5 min","f":3522.27,"i":22.66},{"t":"5 min","f":3522.55,"i":19.66},{"t":"5 min","f":3522.96,"i":15.33},{"t":"5 min","f":3523.37,"i":13.33},{"t":"5 min","f":3523.72,"i":12.33},{"t":"5 min","f":3524.06,"i":13.00},{"t":"5 min","f":3524.40,"i":14.66},{"t":"5 min","f":3524.75,"i":15.83},{"t":"5 min","f":3525.30,"i":16.26},{"t":"5 min","f":3525.78,"i":16.40},{"t":"5 min","f":3526.26,"i":16.33},{"t":"5 min","f":3526.67,"i":17.00},{"t":"5 min","f":3527.15,"i":17.50},{"t":"5 min","f":3527.63,"i":17.83},{"t":"5 min","f":3528.05,"i":17.93},{"t":"5 min","f":3528.46,"i":17.73},{"t":"5 min","f":3528.87,"i":18.00},{"t":"5 min","f":3529.28,"i":18.26},{"t":"5 min","f":3529.83,"i":18.33},{"t":"5 min","f":3530.24,"i":18.16},{"t":"5 min","f":3530.66,"i":17.66},{"t":"5 min","f":3531.07,"i":17.16},{"t":"5 min","f":3531.48,"i":17.00},{"t":"5 min","f":3531.89,"i":16.73},{"t":"5 min","f":3532.31,"i":16.66},{"t":"5 min","f":3532.72,"i":16.50},{"t":"5 min","f":3533.13,"i":16.33},{"t":"5 min","f":3533.54,"i":16.73},{"t":"5 min","f":3533.96,"i":17.00},{"t":"5 min","f":3534.37,"i":16.50},{"t":"5 min","f":3534.78,"i":16.83},{"t":"5 min","f":3535.19,"i":17.00},{"t":"5 min","f":3535.61,"i":17.33},{"t":"5 min","f":3536.02,"i":17.83},{"t":"5 min","f":3536.43,"i":18.66},{"t":"5 min","f":3536.84,"i":19.33},{"t":"5 min","f":3537.26,"i":19.83},{"t":"5 min","f":3537.53,"i":19.16},{"t":"5 min","f":3537.81,"i":17.00},{"t":"5 min","f":3538.22,"i":15.33},{"t":"5 min","f":3538.63,"i":14.83},{"t":"5 min","f":3538.91,"i":15.33},{"t":"5 min","f":3539.32,"i":16.66},{"t":"5 min","f":3539.73,"i":16.93},{"t":"5 min","f":3540.14,"i":17.00},{"t":"5 min","f":3540.55,"i":17.06},{"t":"5 min","f":3540.97,"i":17.16},{"t":"5 min","f":3541.38,"i":17.00},{"t":"5 min","f":3541.79,"i":17.26},{"t":"5 min","f":3542.20,"i":17.06},{"t":"5 min","f":3542.62,"i":17.33},{"t":"5 min","f":3543.03,"i":17.00},{"t":"5 min","f":3543.44,"i":17.16},{"t":"5 min","f":3543.85,"i":17.40},{"t":"5 min","f":3544.27,"i":17.26},{"t":"5 min","f":3544.68,"i":17.06},{"t":"5 min","f":3545.23,"i":17.50},{"t":"5 min","f":3545.64,"i":17.83},{"t":"5 min","f":3546.05,"i":17.40},{"t":"5 min","f":3546.47,"i":17.00},{"t":"5 min","f":3546.88,"i":17.26},{"t":"5 min","f":3547.29,"i":17.50},{"t":"5 min","f":3547.70,"i":17.26},{"t":"5 min","f":3548.11,"i":17.00},{"t":"5 min","f":3548.53,"i":17.33},{"t":"5 min","f":3548.94,"i":17.66},{"t":"5 min","f":3549.35,"i":17.50},{"t":"5 min","f":3549.76,"i":17.26},{"t":"5 min","f":3550.18,"i":17.40},{"t":"5 min","f":3550.59,"i":17.50},{"t":"5 min","f":3551.00,"i":17.33},{"t":"5 min","f":3551.41,"i":17.40},{"t":"5 min","f":3551.83,"i":17.26},{"t":"5 min","f":3552.24,"i":17.33},{"t":"5 min","f":3552.65,"i":17.40},{"t":"5 min","f":3553.06,"i":17.16},{"t":"5 min","f":3553.48,"i":17.00},{"t":"5 min","f":3553.89,"i":17.40},{"t":"5 min","f":3554.30,"i":17.26},{"t":"5 min","f":3554.71,"i":17.00},{"t":"5 min","f":3555.12,"i":17.16},{"t":"5 min","f":3555.54,"i":17.33},{"t":"5 min","f":3555.95,"i":17.06},{"t":"5 min","f":3556.36,"i":17.26},{"t":"5 min","f":3556.77,"i":17.16},{"t":"5 min","f":3557.19,"i":17.83},{"t":"5 min","f":3557.60,"i":17.33},{"t":"5 min","f":3558.01,"i":17.06},{"t":"5 min","f":3558.42,"i":17.26},{"t":"5 min","f":3558.84,"i":17.33},{"t":"5 min","f":3559.25,"i":17.16},{"t":"5 min","f":3559.66,"i":17.33},{"t":"5 min","f":3560.07,"i":17.26},{"t":"5 min","f":3560.49,"i":17.16},{"t":"5 min","f":3560.90,"i":17.26},{"t":"5 min","f":3561.31,"i":17.13},{"t":"5 min","f":3561.86,"i":17.06},{"t":"5 min","f":3562.41,"i":17.26},{"t":"5 min","f":3562.96,"i":17.16},{"t":"5 min","f":3563.51,"i":17.33},{"t":"5 min","f":3564.06,"i":17.40},{"t":"5 min","f":3564.75,"i":17.60},
{"t":"1 min","f":3464.61,"i":6.00},{"t":"1 min","f":3465.16,"i":5.83},{"t":"1 min","f":3465.65,"i":6.16},{"t":"1 min","f":3466.13,"i":6.26},{"t":"1 min","f":3466.54,"i":6.00},{"t":"1 min","f":3467.02,"i":5.73},{"t":"1 min","f":3467.50,"i":5.93},{"t":"1 min","f":3468.05,"i":6.16},{"t":"1 min","f":3468.60,"i":5.83},{"t":"1 min","f":3469.08,"i":5.93},{"t":"1 min","f":3469.56,"i":5.73},{"t":"1 min","f":3470.11,"i":5.83},{"t":"1 min","f":3470.66,"i":6.00},{"t":"1 min","f":3471.14,"i":6.16},{"t":"1 min","f":3471.62,"i":5.93},{"t":"1 min","f":3472.17,"i":6.00},{"t":"1 min","f":3472.72,"i":5.83},{"t":"1 min","f":3473.21,"i":5.50},{"t":"1 min","f":3473.69,"i":5.66},{"t":"1 min","f":3474.24,"i":6.00},{"t":"1 min","f":3474.79,"i":6.16},{"t":"1 min","f":3475.27,"i":6.00},{"t":"1 min","f":3475.75,"i":6.06},{"t":"1 min","f":3476.16,"i":6.33},{"t":"1 min","f":3476.64,"i":5.83},{"t":"1 min","f":3477.12,"i":6.06},{"t":"1 min","f":3477.67,"i":6.40},{"t":"1 min","f":3478.22,"i":5.83},{"t":"1 min","f":3478.70,"i":6.06},{"t":"1 min","f":3479.18,"i":6.40},{"t":"1 min","f":3479.73,"i":5.93},{"t":"1 min","f":3480.28,"i":5.73},{"t":"1 min","f":3480.77,"i":6.26},{"t":"1 min","f":3481.25,"i":6.33},{"t":"1 min","f":3481.80,"i":6.16},{"t":"1 min","f":3482.35,"i":6.26},{"t":"1 min","f":3482.83,"i":6.16},{"t":"1 min","f":3483.31,"i":6.33},{"t":"1 min","f":3483.86,"i":6.06},{"t":"1 min","f":3484.27,"i":5.93},{"t":"1 min","f":3484.68,"i":6.16},{"t":"1 min","f":3485.10,"i":6.00},{"t":"1 min","f":3485.58,"i":6.26},{"t":"1 min","f":3486.06,"i":6.00},{"t":"1 min","f":3486.61,"i":6.06},{"t":"1 min","f":3487.16,"i":6.16},{"t":"1 min","f":3487.64,"i":6.26},{"t":"1 min","f":3488.12,"i":5.93},{"t":"1 min","f":3488.53,"i":6.06},{"t":"1 min","f":3489.01,"i":6.00},{"t":"1 min","f":3489.49,"i":6.26},{"t":"1 min","f":3489.91,"i":5.83},{"t":"1 min","f":3490.39,"i":5.73},{"t":"1 min","f":3490.87,"i":6.16},{"t":"1 min","f":3491.28,"i":6.83},{"t":"1 min","f":3491.76,"i":8.00},{"t":"1 min","f":3492.24,"i":8.50},{"t":"1 min","f":3492.66,"i":8.66},{"t":"1 min","f":3492.93,"i":7.66},{"t":"1 min","f":3493.27,"i":5.33},{"t":"1 min","f":3493.62,"i":3.66},{"t":"1 min","f":3493.89,"i":3.16},{"t":"1 min","f":3494.17,"i":4.00},{"t":"1 min","f":3494.58,"i":5.16},{"t":"1 min","f":3494.99,"i":6.16},{"t":"1 min","f":3495.41,"i":6.66},{"t":"1 min","f":3495.89,"i":6.83},{"t":"1 min","f":3496.37,"i":7.00},{"t":"1 min","f":3496.78,"i":6.83},{"t":"1 min","f":3497.19,"i":6.50},{"t":"1 min","f":3497.60,"i":6.40},{"t":"1 min","f":3498.15,"i":6.33},{"t":"1 min","f":3498.64,"i":6.50},{"t":"1 min","f":3499.12,"i":6.40},{"t":"1 min","f":3499.67,"i":6.16},{"t":"1 min","f":3500.22,"i":5.66},{"t":"1 min","f":3500.77,"i":5.00},{"t":"1 min","f":3501.32,"i":4.83},{"t":"1 min","f":3501.73,"i":4.66},{"t":"1 min","f":3502.14,"i":5.33},{"t":"1 min","f":3502.55,"i":5.83},{"t":"1 min","f":3503.10,"i":6.16},{"t":"1 min","f":3503.65,"i":6.40},{"t":"1 min","f":3504.20,"i":6.66},{"t":"1 min","f":3504.61,"i":6.83},{"t":"1 min","f":3505.17,"i":7.16},{"t":"1 min","f":3505.71,"i":7.00},{"t":"1 min","f":3506.13,"i":7.33},{"t":"1 min","f":3506.54,"i":8.66},{"t":"1 min","f":3506.95,"i":10.16},{"t":"1 min","f":3507.37,"i":10.66},{"t":"1 min","f":3507.64,"i":10.16},{"t":"1 min","f":3507.91,"i":7.66},{"t":"1 min","f":3508.33,"i":4.00},{"t":"1 min","f":3508.60,"i":2.00},{"t":"1 min","f":3508.88,"i":1.50},{"t":"1 min","f":3509.15,"i":2.33},{"t":"1 min","f":3509.56,"i":4.66},{"t":"1 min","f":3509.97,"i":5.50},{"t":"1 min","f":3510.39,"i":5.73},{"t":"1 min","f":3510.80,"i":5.83},{"t":"1 min","f":3511.21,"i":5.66},{"t":"1 min","f":3511.62,"i":6.00},{"t":"1 min","f":3512.04,"i":6.16},{"t":"1 min","f":3512.59,"i":6.50},{"t":"1 min","f":3513.14,"i":6.83},{"t":"1 min","f":3513.69,"i":7.16},
{"t":"1 min","f":3514.44,"i":8.33},{"t":"1 min","f":3514.99,"i":7.00},{"t":"1 min","f":3515.40,"i":5.83},{"t":"1 min","f":3515.81,"i":5.16},{"t":"1 min","f":3516.22,"i":4.83},{"t":"1 min","f":3516.64,"i":5.26},{"t":"1 min","f":3517.05,"i":5.50},{"t":"1 min","f":3517.46,"i":5.66},{"t":"1 min","f":3517.87,"i":5.83},{"t":"1 min","f":3518.29,"i":6.33},{"t":"1 min","f":3518.70,"i":6.66},{"t":"1 min","f":3519.11,"i":6.50},{"t":"1 min","f":3519.52,"i":6.16},{"t":"1 min","f":3519.94,"i":6.50},{"t":"1 min","f":3520.35,"i":6.93},{"t":"1 min","f":3520.76,"i":7.16},{"t":"1 min","f":3521.17,"i":7.40},{"t":"1 min","f":3521.45,"i":8.66},{"t":"1 min","f":3521.72,"i":10.00},{"t":"1 min","f":3522.00,"i":10.83},{"t":"1 min","f":3522.27,"i":10.73},{"t":"1 min","f":3522.55,"i":9.66},{"t":"1 min","f":3522.82,"i":6.66},{"t":"1 min","f":3523.17,"i":3.66},{"t":"1 min","f":3523.51,"i":2.00},{"t":"1 min","f":3523.78,"i":1.50},{"t":"1 min","f":3524.06,"i":2.00},{"t":"1 min","f":3524.33,"i":3.66},{"t":"1 min","f":3524.61,"i":4.66},{"t":"1 min","f":3525.02,"i":5.16},{"t":"1 min","f":3525.43,"i":5.33},{"t":"1 min","f":3525.85,"i":5.50},{"t":"1 min","f":3526.26,"i":5.83},{"t":"1 min","f":3526.67,"i":6.16},{"t":"1 min","f":3527.08,"i":6.26},{"t":"1 min","f":3527.50,"i":6.33},{"t":"1 min","f":3527.91,"i":6.83},{"t":"1 min","f":3528.32,"i":7.16},{"t":"1 min","f":3528.73,"i":7.66},{"t":"1 min","f":3529.15,"i":7.73},{"t":"1 min","f":3529.42,"i":7.33},{"t":"1 min","f":3529.83,"i":7.00},{"t":"1 min","f":3530.24,"i":6.83},{"t":"1 min","f":3530.66,"i":6.50},{"t":"1 min","f":3531.07,"i":5.93},{"t":"1 min","f":3531.48,"i":5.66},{"t":"1 min","f":3531.89,"i":5.83},{"t":"1 min","f":3532.31,"i":6.00},{"t":"1 min","f":3532.72,"i":5.66},{"t":"1 min","f":3533.13,"i":5.93},{"t":"1 min","f":3533.54,"i":6.00},{"t":"1 min","f":3533.96,"i":5.83},{"t":"1 min","f":3534.37,"i":5.50},{"t":"1 min","f":3534.78,"i":5.40},{"t":"1 min","f":3535.19,"i":5.73},{"t":"1 min","f":3535.61,"i":6.40},{"t":"1 min","f":3536.02,"i":7.16},{"t":"1 min","f":3536.43,"i":8.00},{"t":"1 min","f":3536.84,"i":8.50},{"t":"1 min","f":3537.26,"i":8.66},{"t":"1 min","f":3537.53,"i":8.00},{"t":"1 min","f":3537.81,"i":6.33},{"t":"1 min","f":3538.22,"i":4.16},{"t":"1 min","f":3538.63,"i":3.33},{"t":"1 min","f":3538.91,"i":3.66},{"t":"1 min","f":3539.32,"i":4.66},{"t":"1 min","f":3539.73,"i":5.33},{"t":"1 min","f":3540.14,"i":5.73},{"t":"1 min","f":3540.55,"i":5.93},{"t":"1 min","f":3540.97,"i":6.06},{"t":"1 min","f":3541.38,"i":6.16},{"t":"1 min","f":3541.79,"i":6.06},{"t":"1 min","f":3542.20,"i":5.83},{"t":"1 min","f":3542.62,"i":6.00},{"t":"1 min","f":3543.03,"i":6.06},{"t":"1 min","f":3543.44,"i":5.83},{"t":"1 min","f":3543.85,"i":6.06},{"t":"1 min","f":3544.27,"i":6.26},{"t":"1 min","f":3544.68,"i":6.00},{"t":"1 min","f":3545.09,"i":5.73},{"t":"1 min","f":3545.50,"i":6.06},{"t":"1 min","f":3545.92,"i":6.16},{"t":"1 min","f":3546.33,"i":5.93},{"t":"1 min","f":3546.74,"i":6.16},{"t":"1 min","f":3547.15,"i":6.00},{"t":"1 min","f":3547.56,"i":5.83},{"t":"1 min","f":3547.97,"i":6.06},{"t":"1 min","f":3548.39,"i":6.26},{"t":"1 min","f":3548.80,"i":5.93},{"t":"1 min","f":3549.21,"i":5.60},{"t":"1 min","f":3549.63,"i":6.06},{"t":"1 min","f":3550.04,"i":6.33},{"t":"1 min","f":3550.45,"i":6.40},{"t":"1 min","f":3550.86,"i":6.26},{"t":"1 min","f":3551.28,"i":6.40},{"t":"1 min","f":3551.69,"i":6.50},{"t":"1 min","f":3552.10,"i":6.40},{"t":"1 min","f":3552.51,"i":6.26},{"t":"1 min","f":3552.93,"i":6.16},{"t":"1 min","f":3553.34,"i":6.00},{"t":"1 min","f":3553.75,"i":6.26},{"t":"1 min","f":3554.16,"i":6.16},{"t":"1 min","f":3554.57,"i":5.93},{"t":"1 min","f":3554.99,"i":5.83},{"t":"1 min","f":3555.40,"i":6.00},{"t":"1 min","f":3555.81,"i":6.26},{"t":"1 min","f":3556.22,"i":6.06},{"t":"1 min","f":3556.64,"i":5.83},{"t":"1 min","f":3557.05,"i":6.06},{"t":"1 min","f":3557.46,"i":6.33},{"t":"1 min","f":3557.87,"i":5.93},{"t":"1 min","f":3558.29,"i":5.73},{"t":"1 min","f":3558.70,"i":6.06},{"t":"1 min","f":3559.11,"i":6.26},{"t":"1 min","f":3559.52,"i":6.00},{"t":"1 min","f":3559.94,"i":5.93},{"t":"1 min","f":3560.35,"i":6.26},{"t":"1 min","f":3560.76,"i":5.83},{"t":"1 min","f":3561.17,"i":6.26},{"t":"1 min","f":3561.58,"i":6.66},{"t":"1 min","f":3562.00,"i":6.50},{"t":"1 min","f":3562.41,"i":6.16},{"t":"1 min","f":3562.96,"i":6.06},{"t":"1 min","f":3563.51,"i":6.33},{"t":"1 min","f":3564.06,"i":6.40},{"t":"1 min","f":3564.75,"i":6.26}
],
"la": [{"t":"10 min","f":3549.0,"i":33.2},{"t":"5 min","f":3551.0,"i":19.83},{"t":"1 min","f":3550.4,"i":8.5}],
"lb": [{"t":"10 min","f":3546.6,"i":34.16},{"t":"5 min","f":3548.3,"i":20.6},{"t":"1 min","f":3547.6,"i":9.16}]
},
"vconcat": [
{
"width": 526, "height": 392,
"title": {"text": "(a)", "anchor": "start", "frame": "group", "orient": "top", "offset": 0, "dx": -80.4, "dy": 44, "baseline": "alphabetic", "font": "Liberation Serif", "fontSize": 30, "fontWeight": "normal", "color": "#000000"},
"resolve": {"axis": {"x": "independent", "y": "independent"}},
"layer": [
{"data": {"name": "a"},
 "mark": {"type": "line", "strokeWidth": 1.25, "interpolate": "monotone"},
 "encoding": {
  "x": {"field": "f", "type": "quantitative", "scale": {"domain": [3460, 3568.5], "nice": false, "zero": false},
   "axis": {"orient": "bottom", "values": [3460,3480,3500,3520,3540,3560], "format": "d", "tickSize": 7, "labelFont": "Liberation Serif", "labelFontSize": 24, "labelBaseline": "alphabetic", "labelPadding": 25, "labelFlush": false, "labelOverlap": false, "title": "Magnetic Field [G]", "titleFont": "Liberation Serif", "titleFontSize": 33, "titleFontWeight": "normal", "titleX": 266.6, "titleY": 67.7, "titleBaseline": "alphabetic", "titleAlign": "center", "titleAnchor": null}},
  "y": {"field": "i", "type": "quantitative", "scale": {"domain": [0, 39.25], "nice": false, "zero": false},
   "axis": {"orient": "left", "values": [1.0,2.1,3.2,4.3,5.4,6.5,7.6,8.7,9.8,10.9,12.0,13.1,14.2,15.3,16.4,17.5,18.6,19.7,20.8,21.9,23.0,24.1,25.2,26.3,27.4,28.5,29.6,30.7,31.8,32.9,34.0,35.1,36.2,37.3,38.4], "labels": false, "tickSize": -2, "title": "Relative Intensity a.u.", "titleFont": "Liberation Serif", "titleFontSize": 33, "titleFontWeight": "normal", "titleX": -31.3, "titleY": 204.2, "titleAngle": 270, "titleBaseline": "alphabetic", "titleAlign": "center"}},
  "color": {"field": "t", "type": "nominal", "scale": {"domain": ["1 min", "5 min", "10 min"], "range": ["#000000", "#ff0000", "#0000ff"]}, "legend": null}
 }},
{"data": {"name": "la"},
 "transform": [{"filter": "datum.t === '10 min'"}],
 "mark": {"type": "text", "align": "left", "baseline": "alphabetic", "font": "Liberation Sans", "fontSize": 23},
 "encoding": {
  "x": {"field": "f", "type": "quantitative", "axis": {"orient": "top", "values": [3460,3480,3500,3520,3540,3560], "labels": false, "tickSize": 7, "title": null, "zindex": 1}},
  "y": {"field": "i", "type": "quantitative", "axis": null},
  "text": {"field": "t"},
  "color": {"field": "t", "type": "nominal", "legend": null}
 }},
{"data": {"name": "la"},
 "transform": [{"filter": "datum.t !== '10 min'"}],
 "mark": {"type": "text", "align": "left", "baseline": "alphabetic", "font": "Liberation Sans", "fontSize": 23},
 "encoding": {
  "x": {"field": "f", "type": "quantitative", "axis": {"orient": "top", "values": [3470,3490,3510,3530,3550], "labels": false, "domain": false, "tickSize": 4, "title": null, "zindex": 1}},
  "y": {"field": "i", "type": "quantitative", "axis": null},
  "text": {"field": "t"},
  "color": {"field": "t", "type": "nominal", "legend": null}
 }},
{"data": {"values": [{"f": 3462.4, "i": 35.33, "s": "N-SWCNT-PMS"}]},
 "mark": {"type": "text", "align": "left", "baseline": "alphabetic", "font": "Liberation Serif", "fontSize": 34, "color": "#000000"},
 "encoding": {
  "x": {"field": "f", "type": "quantitative", "axis": {"orient": "bottom", "values": [3470,3490,3510,3530,3550], "labels": false, "domain": false, "tickSize": 4, "title": null}},
  "y": {"field": "i", "type": "quantitative", "axis": null},
  "text": {"field": "s"}
 }}
]
},
{
"width": 526, "height": 392.5,
"title": {"text": "(b)", "anchor": "start", "frame": "group", "orient": "top", "offset": 0, "dx": -68.2, "dy": 59.8, "baseline": "alphabetic", "font": "Liberation Serif", "fontSize": 30, "fontWeight": "normal", "color": "#000000"},
"resolve": {"axis": {"x": "independent", "y": "independent"}},
"layer": [
{"data": {"name": "b"},
 "mark": {"type": "line", "strokeWidth": 1.25, "interpolate": "monotone"},
 "encoding": {
  "x": {"field": "f", "type": "quantitative", "scale": {"domain": [3460, 3568.5], "nice": false, "zero": false},
   "axis": {"orient": "bottom", "values": [3460,3480,3500,3520,3540,3560], "format": "d", "tickSize": 7, "labelFont": "Liberation Serif", "labelFontSize": 24, "labelBaseline": "alphabetic", "labelPadding": 25, "labelFlush": false, "labelOverlap": false, "title": "Magnetic Field [G]", "titleFont": "Liberation Serif", "titleFontSize": 33, "titleFontWeight": "normal", "titleX": 266.6, "titleY": 69, "titleBaseline": "alphabetic", "titleAlign": "center", "titleAnchor": null}},
  "y": {"field": "i", "type": "quantitative", "scale": {"domain": [0, 39.25], "nice": false, "zero": false},
   "axis": {"orient": "left", "values": [1.0,2.1,3.2,4.3,5.4,6.5,7.6,8.7,9.8,10.9,12.0,13.1,14.2,15.3,16.4,17.5,18.6,19.7,20.8,21.9,23.0,24.1,25.2,26.3,27.4,28.5,29.6,30.7,31.8,32.9,34.0,35.1,36.2,37.3,38.4], "labels": false, "tickSize": -2, "title": "Relative Intensity a.u.", "titleFont": "Liberation Serif", "titleFontSize": 33, "titleFontWeight": "normal", "titleX": -31.3, "titleY": 217.5, "titleAngle": 270, "titleBaseline": "alphabetic", "titleAlign": "center"}},
  "color": {"field": "t", "type": "nominal", "scale": {"domain": ["1 min", "5 min", "10 min"], "range": ["#000000", "#ff0000", "#0000ff"]}, "legend": null}
 }},
{"data": {"name": "lb"},
 "transform": [{"filter": "datum.t === '10 min'"}],
 "mark": {"type": "text", "align": "left", "baseline": "alphabetic", "font": "Liberation Sans", "fontSize": 23},
 "encoding": {
  "x": {"field": "f", "type": "quantitative", "axis": {"orient": "top", "values": [3460,3480,3500,3520,3540,3560], "labels": false, "tickSize": 7, "title": null, "zindex": 1}},
  "y": {"field": "i", "type": "quantitative", "axis": null},
  "text": {"field": "t"},
  "color": {"field": "t", "type": "nominal", "legend": null}
 }},
{"data": {"name": "lb"},
 "transform": [{"filter": "datum.t !== '10 min'"}],
 "mark": {"type": "text", "align": "left", "baseline": "alphabetic", "font": "Liberation Sans", "fontSize": 23},
 "encoding": {
  "x": {"field": "f", "type": "quantitative", "axis": {"orient": "top", "values": [3470,3490,3510,3530,3550], "labels": false, "domain": false, "tickSize": 4, "title": null, "zindex": 1}},
  "y": {"field": "i", "type": "quantitative", "axis": null},
  "text": {"field": "t"},
  "color": {"field": "t", "type": "nominal", "legend": null}
 }},
{"data": {"values": [{"f": 3461.6, "i": 35.7, "s": "N-SWCNT-PS"}]},
 "mark": {"type": "text", "align": "left", "baseline": "alphabetic", "font": "Liberation Serif", "fontSize": 34, "color": "#000000"},
 "encoding": {
  "x": {"field": "f", "type": "quantitative", "axis": {"orient": "bottom", "values": [3470,3490,3510,3530,3550], "labels": false, "domain": false, "tickSize": 4, "title": null}},
  "y": {"field": "i", "type": "quantitative", "axis": null},
  "text": {"field": "s"}
 }}
]
}
]
}
